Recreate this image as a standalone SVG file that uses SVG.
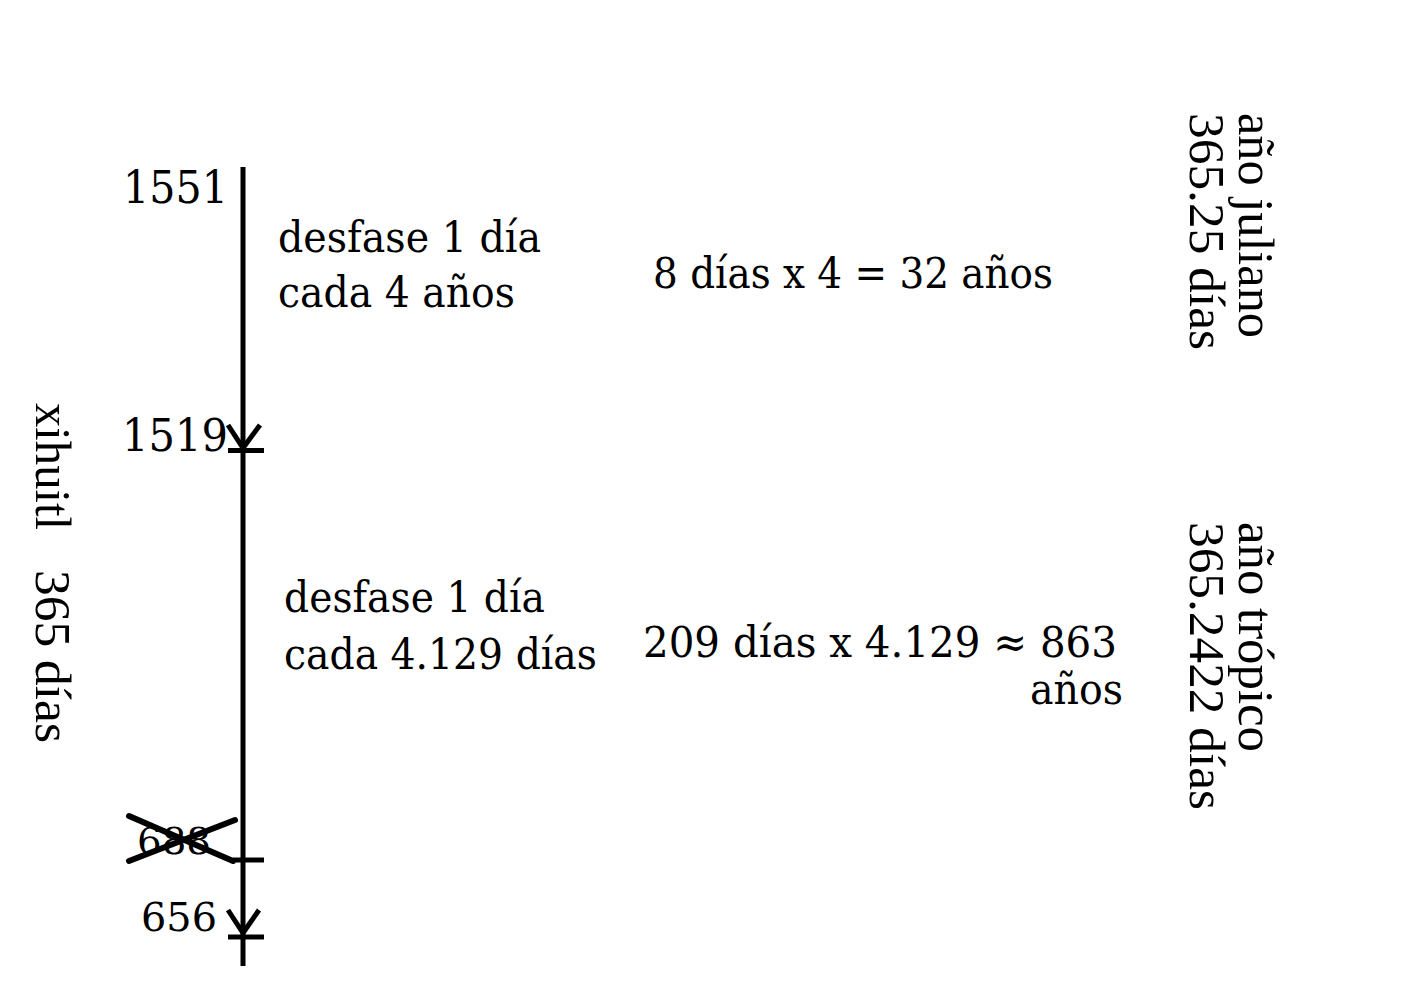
<svg xmlns="http://www.w3.org/2000/svg" width="1402" height="982" viewBox="0 0 1402 982">
<style>
.t{font-family:"DejaVu Serif","Liberation Serif",serif;fill:#000;font-size:43px}
.y{font-family:"DejaVu Serif","Liberation Serif",serif;fill:#000;font-size:44px}
.v{font-family:"Liberation Serif","Times New Roman",serif;fill:#000;font-size:51px}
.ln{stroke:#000;stroke-width:5;fill:none;stroke-linecap:butt}
.x{stroke:#000;stroke-width:6;fill:none;stroke-linecap:round}
</style>
<rect width="1402" height="982" fill="#fff"/>
<g id="connectors">
<line class="ln" x1="243" y1="167" x2="243" y2="966"/>
<polyline class="ln" points="228,425 243,448 260,425"/>
<line class="ln" x1="228" y1="450.5" x2="264" y2="450.5"/>
<polyline class="ln" points="228,910 243,933 259,910"/>
<line class="ln" x1="228" y1="937" x2="264" y2="937"/>
<line class="ln" x1="233" y1="860" x2="264" y2="860"/>
</g>
<g id="n1551"><text class="y" x="123" y="203" textLength="105" lengthAdjust="spacingAndGlyphs">1551</text></g>
<g id="n1519"><text class="y" x="122" y="451" textLength="106" lengthAdjust="spacingAndGlyphs">1519</text></g>
<g id="n688">
<text class="y" x="137" y="854" style="font-size:38px" textLength="74" lengthAdjust="spacingAndGlyphs">688</text>
<line class="x" x1="129" y1="816" x2="233" y2="861"/>
<line class="x" x1="129" y1="861" x2="235" y2="820"/>
</g>
<g id="n656"><text class="y" x="141" y="931" style="font-size:40px" textLength="76" lengthAdjust="spacingAndGlyphs">656</text></g>
<g id="desfase1">
<text class="t" x="278" y="252" textLength="263" lengthAdjust="spacingAndGlyphs">desfase 1 día</text>
<text class="t" x="278" y="307" textLength="237" lengthAdjust="spacingAndGlyphs">cada 4 años</text>
</g>
<g id="calc1"><text class="t" x="653" y="288" textLength="400" lengthAdjust="spacingAndGlyphs">8 días x 4 = 32 años</text></g>
<g id="desfase2">
<text class="t" x="284" y="612" textLength="261" lengthAdjust="spacingAndGlyphs">desfase 1 día</text>
<text class="t" x="284" y="669" textLength="313" lengthAdjust="spacingAndGlyphs">cada 4.129 días</text>
</g>
<g id="calc2">
<text class="t" x="643" y="657" textLength="474" lengthAdjust="spacingAndGlyphs">209 días x 4.129 ≈ 863</text>
<text class="t" x="1030" y="704" textLength="93" lengthAdjust="spacingAndGlyphs">años</text>
</g>
<g id="juliano">
<text class="v" transform="translate(1239,113) rotate(90)" textLength="225" lengthAdjust="spacingAndGlyphs">año juliano</text>
<text class="v" transform="translate(1190,113) rotate(90)" textLength="237" lengthAdjust="spacingAndGlyphs">365.25 días</text>
</g>
<g id="tropico">
<text class="v" transform="translate(1239,522) rotate(90)" textLength="230" lengthAdjust="spacingAndGlyphs">año trópico</text>
<text class="v" transform="translate(1190,522) rotate(90)" textLength="288" lengthAdjust="spacingAndGlyphs">365.2422 días</text>
</g>
<g id="xihuitl">
<text class="v" transform="translate(36,403) rotate(90)" style="font-size:50px" textLength="127" lengthAdjust="spacingAndGlyphs">xihuitl</text>
<text class="v" transform="translate(36,570) rotate(90)" style="font-size:50px" textLength="173" lengthAdjust="spacingAndGlyphs">365 días</text>
</g>
</svg>
